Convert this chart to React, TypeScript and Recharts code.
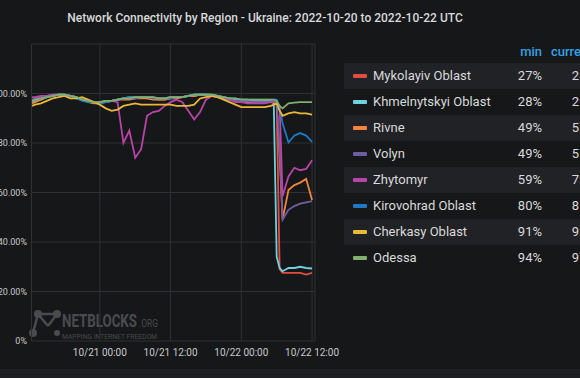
import { CartesianGrid, Line, LineChart, XAxis, YAxis } from "recharts";

// hours relative to 2022-10-21 00:00 UTC
const hours = [
  -11.5, -11, -10, -9, -8, -7, -6, -5, -4, -3, -2, -1, 0, 1, 2, 3, 4, 5, 6, 7, 8, 9, 10,
  11, 12, 13, 14, 15, 16, 17, 18, 19, 20, 21, 22, 23, 24, 25, 26, 27, 28, 29, 29.5, 30,
  30.5, 31, 32, 33, 34, 35, 36,
];

const mykolayiv = [
  97, 97.5, 98, 99, 99, 99.5, 99.5, 99, 98.5, 97.5, 97, 96.5, 96.5, 96.5, 97, 97.5, 98, 98,
  98, 98.5, 98, 98, 97.5, 97.5, 98, 98, 98.5, 99, 99, 99.5, 99.5, 99, 98.5, 98, 97.5, 97, 97,
  96.5, 96.5, 96.5, 96.5, 96.5, 96, 96, 29, 27.5, 27.5, 27.5, 27.5, 26.8, 27.5,
];
const khmelnytskyi = [
  96.5, 97, 97.5, 98.5, 99, 99.5, 99.5, 99, 98.5, 97.5, 97, 96.5, 96.5, 97, 97, 97.5, 98,
  98.5, 98.5, 98.5, 98.5, 98, 98, 98, 98.5, 98.5, 98.5, 99, 99.5, 99.5, 99.5, 99.5, 99, 98.5,
  98, 97.5, 97.5, 97.5, 97, 97, 97, 97, 96.5, 34, 29.5, 28.2, 29.5, 29.5, 30, 29.5, 29.3,
];
const rivne = [
  96, 96.5, 97.5, 98.5, 99, 99.5, 99.5, 99, 98.5, 97.5, 96.5, 96, 96, 96.5, 97, 97.5, 97.5,
  97.5, 98, 98, 98, 97.5, 97.5, 97.5, 98, 98, 98.5, 99, 99, 99.5, 99.5, 99, 98.5, 98, 97.5,
  97, 97, 96.5, 96.5, 96.5, 96.5, 96.5, 96.5, 95.5, 75, 49.2, 61, 63, 64, 65.5, 57,
];
const volyn = [
  97.5, 98, 98.5, 99, 99.5, 99.5, 99.5, 99, 98.5, 97.5, 97, 96.5, 96.5, 96.5, 97, 97.5, 98,
  98, 98, 98.5, 98.5, 98, 98, 98, 98.5, 98.5, 98.5, 99, 99.5, 99.5, 99.5, 99, 98.5, 98, 97.5,
  97, 97, 97, 96.5, 96.5, 96.5, 96.5, 96.5, 96, 78, 49, 53, 54.5, 55.5, 56, 56.5,
];
const zhytomyr = [
  98.5, 98.5, 99, 99, 99.5, 99.5, 99.5, 99, 98, 97.5, 97, 96.5, 96.5, 96.5, 97, 96.5, 80, 85,
  74, 77.5, 91, 92.5, 93, 95, 96.5, 97.5, 96.5, 93, 89.5, 92.5, 97.5, 99, 98.5, 98, 97.5,
  96.5, 96.5, 96, 96, 96, 96, 96.5, 96.5, 96.5, 95, 58.5, 66.5, 70, 69, 69.5, 73,
];
const kirovohrad = [
  97, 97.5, 98, 98.5, 99, 99.5, 99.5, 99, 98, 97, 96.5, 96.5, 96, 96.5, 97, 97.5, 98, 98.5,
  98.5, 98.5, 98.5, 98.5, 98, 98, 98, 98.5, 98.5, 99, 99.5, 99.5, 99.5, 99, 99, 98.5, 98, 98,
  97.5, 97.5, 97.5, 97.5, 97.5, 97.5, 97.5, 97.5, 94, 88, 80.2, 83, 84, 83, 80.5,
];
const cherkasy = [
  95, 95.5, 96, 97, 98, 98.5, 99, 98, 98, 98.5, 97.5, 96.5, 95.5, 94, 93, 93.5, 95, 95.5, 96,
  95.5, 95.5, 95.5, 95.5, 95.5, 95.5, 95, 95, 95, 95.5, 98, 98.5, 99, 98.5, 97.5, 96.5, 95.5,
  94.5, 94.5, 94.5, 94.5, 94.5, 95, 95.5, 96, 93, 91, 92, 92.5, 92, 92, 91.5,
];
const odessa = [
  97, 97.5, 98, 98.5, 99, 99.5, 99.5, 99, 98.5, 97.5, 97, 96.5, 96.5, 97, 97, 97.5, 98, 98,
  98.5, 98.5, 98.5, 98.5, 98, 98, 98.5, 98.5, 98.5, 99, 99.5, 99.5, 99.5, 99.5, 99, 98.5, 98,
  98, 97.5, 97.5, 97.5, 97.5, 97.5, 97.5, 97.5, 97, 95, 94, 96, 96.3, 96.5, 96.5, 96.5,
];

const regions = [
  "Mykolayiv Oblast",
  "Khmelnytskyi Oblast",
  "Rivne",
  "Volyn",
  "Zhytomyr",
  "Kirovohrad Oblast",
  "Cherkasy Oblast",
  "Odessa",
];
const seriesValues = [mykolayiv, khmelnytskyi, rivne, volyn, zhytomyr, kirovohrad, cherkasy, odessa];
const colors = ["#E24D42", "#6ED0E0", "#EF843C", "#705DA0", "#BA43A9", "#1F78C1", "#EAB839", "#7EB26D"];

const xTicks = [0, 12, 24, 36];
const xTickLabels = ["10/21 00:00", "10/21 12:00", "10/22 00:00", "10/22 12:00"];
const yTicks = [0, 20, 40, 60, 80, 100, 120];

const rows = hours.map((h, i) => {
  const row: Record<string, number> = { h };
  seriesValues.forEach((s, k) => (row["s" + k] = s[i]));
  return row;
});

const BG = "#161719";
const TEXT = "#d8d9da";

function YTick(props: any) {
  const { y, payload } = props;
  if (payload.value === 120) return <g />;
  const label = payload.value === 0 ? "0%" : payload.value.toFixed(2) + "%";
  return (
    <text x={27} y={y} dy={3} textAnchor="end" fill="#c8c9ca" fontSize={9}>
      {label}
    </text>
  );
}

function XTick(props: any) {
  const { x, payload } = props;
  const label = xTickLabels[xTicks.indexOf(payload.value)];
  return (
    <text x={x} y={356} textAnchor="middle" fill="#c8c9ca" fontSize={10}>
      {label}
    </text>
  );
}

function Watermark() {
  const c = "#4a4b4e";
  return (
    <svg
      width={140}
      height={40}
      style={{ position: "absolute", left: 28, top: 306, pointerEvents: "none" }}
    >
      <g stroke={c} strokeWidth={2.5} fill="none">
        <line x1={10} y1={8} x2={5} y2={27} />
        <line x1={10} y1={8} x2={29} y2={8} />
        <line x1={10} y1={8} x2={20} y2={20} />
        <line x1={20} y1={20} x2={29} y2={8} />
      </g>
      <g fill={c}>
        <circle cx={10} cy={8} r={4} />
        <circle cx={29} cy={8} r={4} />
        <circle cx={5} cy={27} r={4} />
        <circle cx={29} cy={27} r={3} />
      </g>
      <text x={34} y={21} fill={c} fontSize={18} fontWeight={700}>
        <tspan textLength={75} lengthAdjust="spacingAndGlyphs">
          NETBLOCKS
        </tspan>
        <tspan x={111} fontSize={10} fontWeight={400} textLength={19} lengthAdjust="spacingAndGlyphs">
          .ORG
        </tspan>
      </text>
      <text x={34} y={33} fill={c} fontSize={8} textLength={95} lengthAdjust="spacingAndGlyphs">
        MAPPING INTERNET FREEDOM
      </text>
    </svg>
  );
}

export default function App() {
  return (
    <div
      style={{
        position: "absolute",
        left: 0,
        top: 0,
        width: 580,
        height: 378,
        overflow: "hidden",
        background: BG,
        fontFamily: "Roboto, sans-serif",
        color: TEXT,
      }}
    >
      <div
        style={{
          position: "absolute",
          left: 0,
          top: 11,
          width: 530,
          textAlign: "center",
          fontSize: 12,
          fontWeight: 500,
          whiteSpace: "nowrap",
        }}
      >
        Network Connectivity by Region - Ukraine: 2022-10-20 to 2022-10-22 UTC
      </div>

      <div style={{ position: "absolute", left: 0, top: 369, width: 580, height: 9, background: "#1e1f22" }} />

      <Watermark />

      <div style={{ position: "absolute", left: 0, top: 0 }}>
        <LineChart width={345} height={378} data={rows} margin={{ top: 44, right: 30, bottom: 0, left: 0 }}>
          <CartesianGrid stroke="#303135" strokeWidth={1} />
          <XAxis
            dataKey="h"
            type="number"
            domain={[-11.6, 36.5]}
            ticks={xTicks}
            allowDataOverflow
            axisLine={false}
            tickLine={false}
            tick={<XTick />}
            height={37}
          />
          <YAxis
            type="number"
            domain={[0, 120]}
            ticks={yTicks}
            axisLine={false}
            tickLine={false}
            tick={<YTick />}
            width={31.5}
          />
          {regions.map((r, k) => (
            <Line
              key={r}
              name={r}
              dataKey={"s" + k}
              stroke={colors[k]}
              strokeWidth={1.8}
              dot={false}
              type="linear"
              isAnimationActive={false}
            />
          ))}
        </LineChart>
      </div>

      <div
        style={{
          position: "absolute",
          left: 500,
          top: 44,
          width: 42,
          textAlign: "right",
          fontSize: 13,
          fontWeight: 500,
          color: "#33a2e5",
        }}
      >
        min
      </div>
      <div
        style={{
          position: "absolute",
          left: 551,
          top: 44,
          fontSize: 13,
          fontWeight: 500,
          color: "#33a2e5",
          whiteSpace: "nowrap",
        }}
      >
        current
      </div>

      {regions.map((r, i) => {
        const vals = seriesValues[i];
        const min = Math.round(Math.min(...vals));
        const cur = Math.round(vals[vals.length - 1]);
        const top = 63 + 26 * i;
        return (
          <div
            key={r}
            style={{
              position: "absolute",
              left: 344,
              top,
              width: 260,
              height: 26,
              background: i % 2 === 0 ? "#212226" : "transparent",
              fontSize: 13,
              lineHeight: "26px",
            }}
          >
            <div
              style={{
                position: "absolute",
                left: 9,
                top: 11,
                width: 14,
                height: 4,
                borderRadius: 1,
                background: colors[i],
              }}
            />
            <div style={{ position: "absolute", left: 29, top: 0, whiteSpace: "nowrap" }}>{r}</div>
            <div style={{ position: "absolute", left: 156, top: 0, width: 42, textAlign: "right" }}>
              {min}%
            </div>
            <div style={{ position: "absolute", left: 204, top: 0, width: 48, textAlign: "right" }}>
              {cur}%
            </div>
          </div>
        );
      })}
    </div>
  );
}
